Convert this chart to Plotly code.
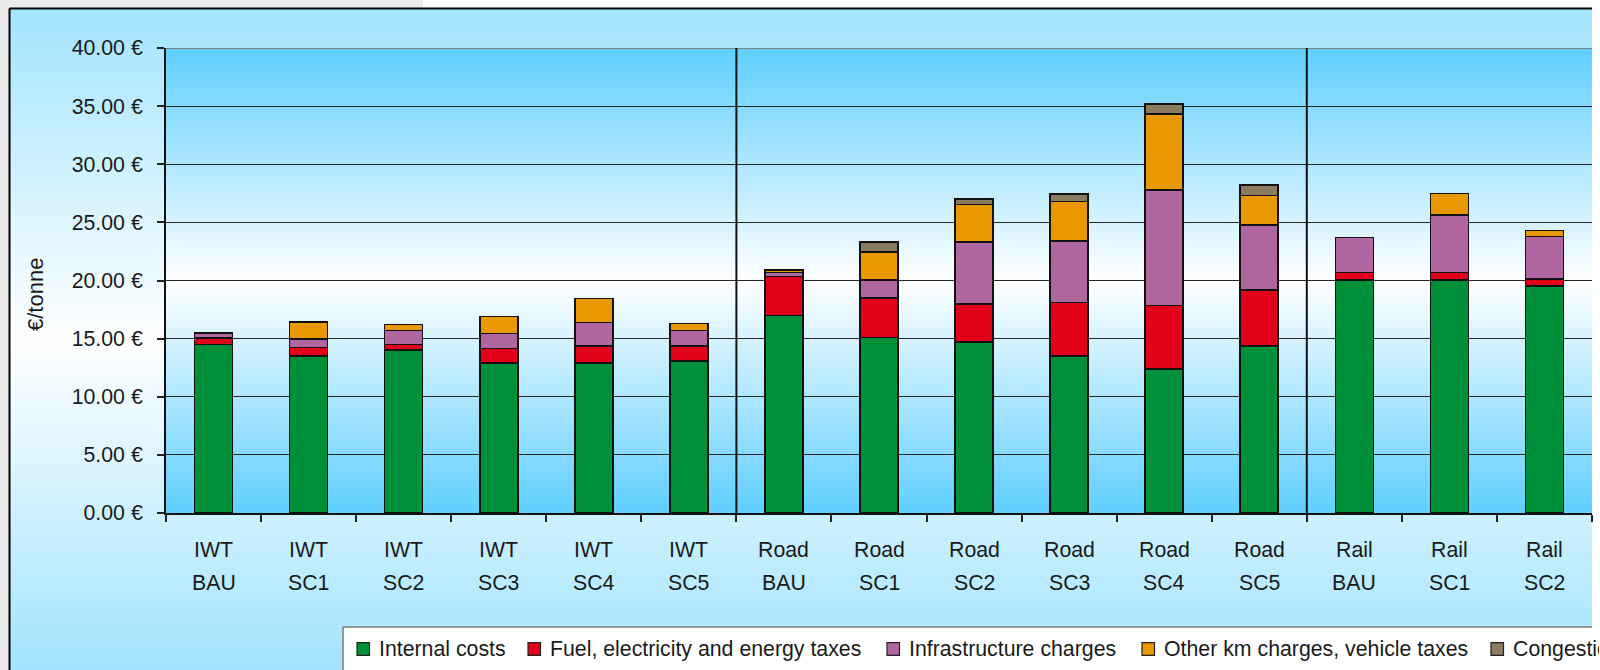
import base64
import plotly.graph_objects as go

# ---- data -------------------------------------------------------------
modes = ["IWT"] * 6 + ["Road"] * 6 + ["Rail"] * 3
scenarios = ["BAU", "SC1", "SC2", "SC3", "SC4", "SC5",
             "BAU", "SC1", "SC2", "SC3", "SC4", "SC5",
             "BAU", "SC1", "SC2"]
categories = [f"{m} {s}" for m, s in zip(modes, scenarios)]

internal_costs = [14.50, 13.50, 14.00, 12.90, 12.90, 13.05,
                  17.00, 15.10, 14.70, 13.50, 12.40, 14.35,
                  20.05, 20.05, 19.55]
fuel_energy_taxes = [0.55, 0.75, 0.50, 1.25, 1.45, 1.30,
                     3.35, 3.40, 3.30, 4.60, 5.45, 4.85,
                     0.65, 0.65, 0.60]
infrastructure_charges = [0.45, 0.70, 1.20, 1.30, 2.05, 1.35,
                          0.35, 1.55, 5.30, 5.30, 9.95, 5.55,
                          3.00, 4.95, 3.65]
other_km_vehicle_taxes = [0.00, 1.50, 0.50, 1.45, 2.05, 0.60,
                          0.15, 2.40, 3.25, 3.40, 6.50, 2.55,
                          0.00, 1.85, 0.50]
congestion_charges = [0.00, 0.00, 0.00, 0.00, 0.00, 0.00,
                      0.10, 0.85, 0.45, 0.65, 0.90, 0.90,
                      0.00, 0.00, 0.00]

series_names = ["Internal costs", "Fuel, electricity and energy taxes",
                "Infrastructure charges", "Other km charges, vehicle taxes",
                "Congestion charges"]
series_values = [internal_costs, fuel_energy_taxes, infrastructure_charges,
                 other_km_vehicle_taxes, congestion_charges]
series_colors = ["#00903A", "#E2001A", "#B0669E", "#EA9800", "#8A7B61"]

# ---- geometry (pixels) ------------------------------------------------
W, H = 1600, 670
L, R, T, B = 166, 1592, 48, 513
FONT = "Liberation Sans, Arial, sans-serif"
FS = 21.3
TXT = "#1a1a1a"


def px_x(x):
    return (x - L) / (R - L)


def px_y(y):
    return (B - y) / (B - T)


def vgradient(edge, mid):
    svg = (
        '<svg xmlns="http://www.w3.org/2000/svg" width="100" height="100" '
        'viewBox="0 0 100 100" preserveAspectRatio="none">'
        '<defs><linearGradient id="g" x1="0" y1="0" x2="0" y2="1">'
        f'<stop offset="0" stop-color="{edge}"/>'
        f'<stop offset="0.5" stop-color="{mid}"/>'
        f'<stop offset="1" stop-color="{edge}"/>'
        '</linearGradient></defs>'
        '<rect width="100" height="100" fill="url(#g)"/></svg>'
    )
    return "data:image/svg+xml;base64," + base64.b64encode(svg.encode()).decode()


fig = go.Figure()
for name, vals, col in zip(series_names, series_values, series_colors):
    fig.add_trace(go.Bar(
        x=categories, y=vals, name=name,
        marker=dict(color=col, line=dict(color="#111111", width=1.6)),
        showlegend=False,
    ))

# backgrounds
frame_x0, frame_y0 = 9.5, 8.5
images = [
    dict(source=vgradient("#A2E4FF", "#FFFFFF"), xref="paper", yref="paper",
         x=px_x(frame_x0), y=px_y(frame_y0),
         sizex=px_x(R) - px_x(frame_x0), sizey=px_y(frame_y0) - px_y(H),
         xanchor="left", yanchor="top", sizing="stretch", layer="below"),
    dict(source=vgradient("#5FCFFF", "#FFFFFF"), xref="paper", yref="paper",
         x=0, y=1, sizex=1, sizey=1,
         xanchor="left", yanchor="top", sizing="stretch", layer="below"),
]

shapes = [
    # page margins outside the chart frame
    dict(type="rect", xref="paper", yref="paper", layer="below",
         x0=px_x(0), x1=px_x(frame_x0), y0=px_y(H), y1=px_y(0),
         fillcolor="#EBEBEB", line=dict(width=0)),
    dict(type="rect", xref="paper", yref="paper", layer="below",
         x0=px_x(0), x1=px_x(423), y0=px_y(frame_y0), y1=px_y(0),
         fillcolor="#EBEBEB", line=dict(width=0)),
    # chart frame (top and left edges)
    dict(type="line", xref="paper", yref="paper", layer="above",
         x0=px_x(frame_x0), x1=px_x(R), y0=px_y(frame_y0), y1=px_y(frame_y0),
         line=dict(color="#000000", width=2)),
    dict(type="line", xref="paper", yref="paper", layer="above",
         x0=px_x(frame_x0), x1=px_x(frame_x0), y0=px_y(frame_y0), y1=px_y(H),
         line=dict(color="#000000", width=2)),
    # top edge of plotting area
    dict(type="line", xref="paper", yref="y", layer="below",
         x0=0, x1=1, y0=40, y1=40, line=dict(color="#808080", width=2)),
]

# separators between transport modes
boundaries = [i - 0.5 for i in range(1, len(modes)) if modes[i] != modes[i - 1]]
for bx in boundaries:
    shapes.append(dict(type="line", xref="x", yref="y", layer="above",
                       x0=bx, x1=bx, y0=0, y1=40.25,
                       line=dict(color="#111111", width=2)))

annotations = []
# two-line category labels
for cat, m, s in zip(categories, modes, scenarios):
    annotations.append(dict(x=cat, xref="x", y=px_y(550), yref="paper", text=m,
                            showarrow=False, xanchor="center", yanchor="middle",
                            font=dict(family=FONT, size=FS, color=TXT)))
    annotations.append(dict(x=cat, xref="x", y=px_y(583), yref="paper", text=s,
                            showarrow=False, xanchor="center", yanchor="middle",
                            font=dict(family=FONT, size=FS, color=TXT)))

# y-axis title
annotations.append(dict(x=px_x(35), y=px_y(295), xref="paper", yref="paper",
                        text="€/tonne", textangle=-90, showarrow=False,
                        xanchor="center", yanchor="middle",
                        font=dict(family=FONT, size=22, color=TXT)))

# legend box along the bottom
leg_x0, leg_y0 = 343, 627
shapes += [
    dict(type="rect", xref="paper", yref="paper", layer="above",
         x0=px_x(leg_x0), x1=px_x(R), y0=px_y(H + 20), y1=px_y(leg_y0),
         fillcolor="#FFFFFF", line=dict(width=0)),
    dict(type="line", xref="paper", yref="paper", layer="above",
         x0=px_x(leg_x0), x1=px_x(R), y0=px_y(leg_y0), y1=px_y(leg_y0),
         line=dict(color="#7A7A7A", width=1.5)),
    dict(type="line", xref="paper", yref="paper", layer="above",
         x0=px_x(leg_x0), x1=px_x(leg_x0), y0=px_y(leg_y0), y1=px_y(H + 20),
         line=dict(color="#7A7A7A", width=1.5)),
]
legend_text_x = [378, 549, 908, 1163, 1512]
leg_cy = 649
for name, col, tx in zip(series_names, series_colors, legend_text_x):
    sx = tx - 21
    shapes.append(dict(type="rect", xref="paper", yref="paper", layer="above",
                       x0=px_x(sx), x1=px_x(sx + 12.5),
                       y0=px_y(leg_cy + 6.3), y1=px_y(leg_cy - 6.3),
                       fillcolor=col, line=dict(color="#222222", width=1.2)))
    ann = dict(x=px_x(tx), y=px_y(leg_cy), xref="paper", yref="paper",
               text=name, showarrow=False, xanchor="left", yanchor="middle",
               align="left", borderpad=0,
               font=dict(family=FONT, size=FS, color=TXT))
    if tx + 330 > R:
        # the legend runs past the right edge of the chart frame
        ann["width"] = R - tx + 6
    annotations.append(ann)

fig.update_layout(
    width=W, height=H,
    margin=dict(l=L, r=W - R, t=T, b=H - B, pad=0),
    paper_bgcolor="#FFFFFF",
    plot_bgcolor="rgba(0,0,0,0)",
    barmode="stack",
    bargap=0.6,
    images=images,
    shapes=shapes,
    annotations=annotations,
    font=dict(family=FONT, size=FS, color=TXT),
    xaxis=dict(
        type="category", categoryorder="array", categoryarray=categories,
        range=[-0.5, len(categories) - 0.5],
        showgrid=False, zeroline=False,
        showline=True, linecolor="#111111", linewidth=2,
        ticks="outside", tickson="boundaries", ticklen=7,
        tickwidth=1.5, tickcolor="#222222",
        showticklabels=False,
    ),
    yaxis=dict(
        range=[0, 40], dtick=5, tick0=0,
        tickformat=".2f", ticksuffix=" €",
        showgrid=True, gridcolor="#262626", gridwidth=1.4,
        zeroline=False,
        showline=True, linecolor="#111111", linewidth=2,
        ticks="outside", ticklen=7, tickwidth=1.5, tickcolor="#222222",
        ticklabelstandoff=10,
        tickfont=dict(family=FONT, size=FS, color=TXT),
    ),
)

fig.write_html("out.html")
